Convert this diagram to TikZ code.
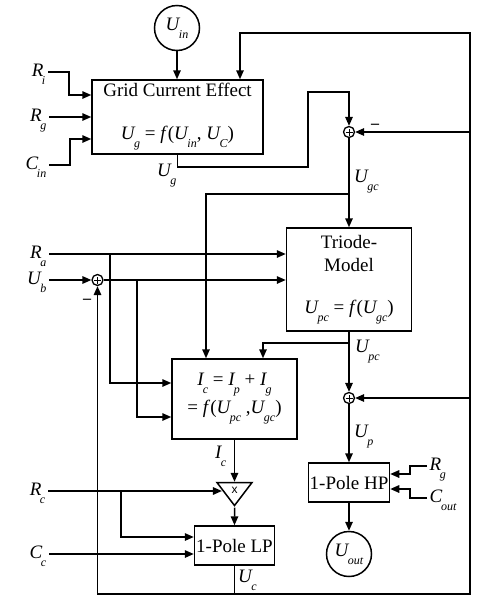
\documentclass[tikz,border=0pt]{standalone}
\usepackage{fontspec}
\setmainfont{Liberation Serif}
\newfontfamily\multfont{Liberation Sans}
\usetikzlibrary{arrows.meta,shapes.geometric}

\newcommand{\subsz}{\fontsize{12}{12}\selectfont}
\newcommand{\vsym}[2]{\textit{#1}\kern-1.5pt\raisebox{-8pt}{\subsz\textit{#2}}}

\begin{document}
\begin{tikzpicture}[x=1pt,y=-1pt,font=\fontsize{19}{22}\selectfont]
\tikzstyle{block} = [rectangle, draw, line width=1.5pt, align=center, inner sep=0pt]
\tikzstyle{source} = [circle, draw, line width=1.5pt, minimum size=45pt, inner sep=0pt]
\tikzstyle{adder} = [circle, draw, line width=1.3pt, minimum size=11pt, inner sep=0pt,
path picture={\draw[line width=1pt] ([xshift=-3.5pt]path picture bounding box.center) -- ([xshift=3.5pt]path picture bounding box.center)
([yshift=-3.5pt]path picture bounding box.center) -- ([yshift=3.5pt]path picture bounding box.center);}]
\tikzstyle{mult} = [isosceles triangle, isosceles triangle stretches, shape border rotate=270, draw,
line width=1.5pt, minimum width=35pt, minimum height=23pt, inner sep=0pt, font=\multfont\fontsize{12}{12}\selectfont]
\tikzstyle{inlabel} = [anchor=east, text height=13pt, text depth=5pt, inner sep=2.5pt]
\tikzstyle{outlabel} = [anchor=west, text height=13pt, text depth=5pt, inner sep=2.5pt]
\tikzstyle{siglabel} = [anchor=base west, inner sep=0pt]
\tikzstyle{sign} = [inner sep=0pt, font=\fontsize{16}{16}\selectfont\bfseries]
\tikzstyle{line} = [draw, line width=1.5pt, -{Triangle[length=9pt,width=7.5pt]}]
\tikzstyle{wire} = [draw, line width=1.5pt]

\useasboundingbox (0,0) rectangle (486,600);

% blocks
\node[source] (uin) at (177,28) {\vsym{U}{in}};
\node[block, minimum width=171pt, minimum height=74pt] (gce) at (177.5,117)
{Grid Current Effect\\[21pt]\vsym{U}{g} = \textit{f}(\vsym{U}{in}, \vsym{U}{C})};
\node[adder] (sum1) at (349,132) {};
\node[block, minimum width=125pt, minimum height=103pt] (triode) at (349,279.5)
{Triode-\\[1pt]Model\\[20pt]\vsym{U}{pc} = \textit{f}(\vsym{U}{gc})};
\node[adder] (sumb) at (97.5,280) {};
\node[block, minimum width=125pt, minimum height=80pt] (ic) at (234.5,399)
{\vsym{I}{c} = \vsym{I}{p} + \vsym{I}{g}\\[3pt]= \textit{f}(\vsym{U}{pc} ,\vsym{U}{gc})};
\node[adder] (sum2) at (349,398) {};
\node[block, minimum width=81pt, minimum height=39pt] (hp) at (349,482.5) {1-Pole HP};
\node[mult] (mul) at (234.5,490.5) {x};
\node[block, minimum width=80pt, minimum height=39pt] (lp) at (234.5,545.5) {1-Pole LP};
\node[source] (uout) at (349,554) {\vsym{U}{out}};

% inputs
\node[inlabel] (ri) at (48,72) {\vsym{R}{i}};
\node[inlabel] (rgl) at (49,117) {\vsym{R}{g}};
\node[inlabel] (cin) at (49,165) {\vsym{C}{in}};
\node[inlabel] (ra) at (49,254) {\vsym{R}{a}};
\node[inlabel] (ub) at (49,280) {\vsym{U}{b}};
\node[inlabel] (rc) at (48,491) {\vsym{R}{c}};
\node[inlabel] (cc) at (49,554) {\vsym{C}{c}};
\node[outlabel] (rgr) at (427,466) {\vsym{R}{g}};
\node[outlabel] (cout) at (427,498) {\vsym{C}{out}};

% signals
\node[siglabel] (ug) at (157,176) {\vsym{U}{g}};
\node[siglabel] (ugc) at (354,182) {\vsym{U}{gc}};
\node[siglabel] (upc) at (355,352) {\vsym{U}{pc}};
\node[siglabel] (up) at (354,437) {\vsym{U}{p}};
\node[siglabel] (icl) at (215,458) {\vsym{I}{c}};
\node[siglabel] (ucl) at (238,582) {\vsym{U}{c}};
\node[sign] (minus1) at (375,126) {–};
\node[sign] (minus2) at (87,301) {–};

\coordinate (railt) at (470,33);
\coordinate (railb) at (470,594);
\coordinate (bus) at (234.5,594);
\coordinate (ugcj) at (349,194);
\coordinate (raj) at (110,254);
\coordinate (ubj) at (137,280);
\coordinate (upcj) at (349,343);
\coordinate (rcj) at (121,491);

\path[line] (uin) -- (uin |- gce.north);
\path[line] (ri.east) -- ++(21,0) |- ([yshift=22pt]gce.west);
\path[line] (rgl.east) -- (rgl.east -| gce.west);
\path[line] (cin.east) -- ++(21,0) |- ([yshift=-22pt]gce.west);
\path[line] (gce.south) -- ++(0,12) -| ++(130.5,-75) -| (sum1);
\path[line] (sum1) -- (sum1 |- triode.north);
\path[line] (ugcj) -| ([xshift=-28.5pt]ic.north);
\path[line] (ra.east) -- (ra.east -| triode.west);
\path[line] (raj) |- ([yshift=16pt]ic.west);
\path[line] (ub.east) -- (sumb);
\path[line] (sumb) -- (sumb -| triode.west);
\path[line] (ubj) |- ([yshift=-18pt]ic.west);
\path[line] (triode.south) -- (sum2);
\path[line] (upcj) -| ([xshift=28.5pt]ic.north);
\path[line] (sum2) -- (sum2 |- hp.north);
\path[line] (hp) -- (uout);
\path[line] (rgr.west) -- ++(-17,0) |- ([yshift=8.5pt]hp.east);
\path[line] (cout.west) -- ++(-17,0) |- ([yshift=-6.5pt]hp.east);
\path[line] (ic.south) -- (ic.south |- mul.north);
\path[line] (mul.south) -- (lp.north);
\path[line] (rc.east) -- (rc.east -| mul.west);
\path[line] (rcj) |- ([yshift=8.5pt]lp.west);
\path[line] (cc.east) -- (cc.east -| lp.west);
\path[wire] (lp) -- (bus);
\path[line] (bus) -- (railb) -- (railt) -| ([xshift=62.5pt]gce.north);
\path[line] (sum1 -| railt) -- (sum1);
\path[line] (sum2 -| railt) -- (sum2);
\path[line] (bus) -| (sumb);

\end{tikzpicture}
\end{document}
